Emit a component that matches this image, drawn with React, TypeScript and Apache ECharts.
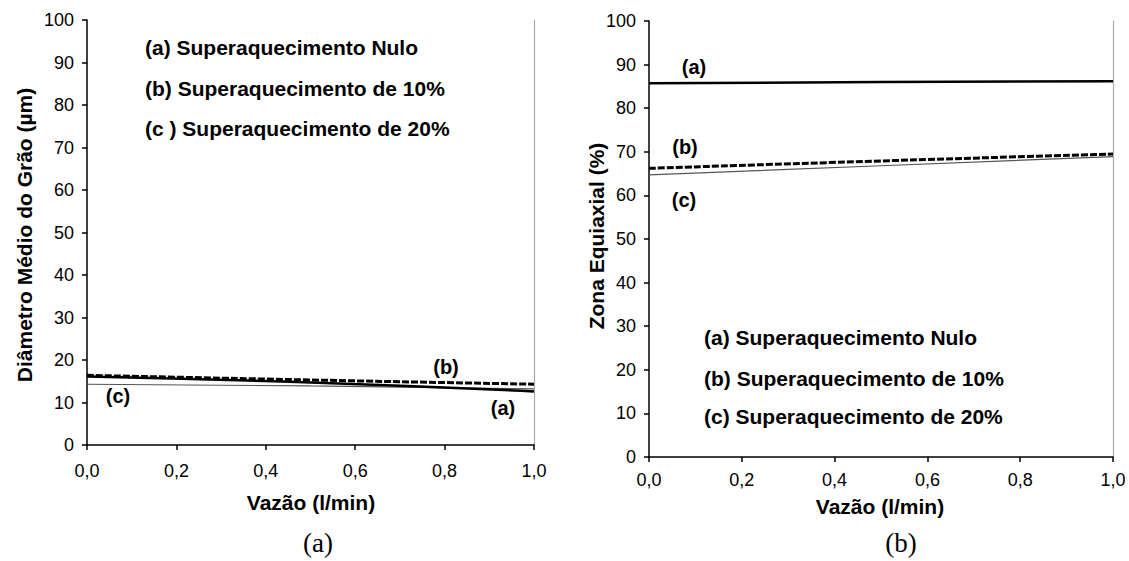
import React, { useEffect, useRef } from "react";
import * as echarts from "echarts";

const xVals = [0, 0.5, 1.0];
const xTicks = ["0,0", "0,2", "0,4", "0,6", "0,8", "1,0"];

// Left chart: Diâmetro Médio do Grão (µm)
const leftA = [16.1, 14.7, 12.6];
const leftB = [16.4, 15.3, 14.3];
const leftC = [14.3, 13.9, 13.2];

// Right chart: Zona Equiaxial (%)
const rightA = [85.7, 86.0, 86.2];
const rightB = [66.2, 67.9, 69.5];
const rightC = [64.7, 66.8, 68.9];

const legendTexts = [
  "(a) Superaquecimento Nulo",
  "(b) Superaquecimento de 10%",
  "(c ) Superaquecimento de 20%",
];
const legendTextsRight = [
  "(a) Superaquecimento Nulo",
  "(b) Superaquecimento de 10%",
  "(c) Superaquecimento de 20%",
];

const FONT = "'Liberation Sans', Arial, sans-serif";
const SERIF = "'Liberation Serif', 'Times New Roman', serif";

const pts = (ys: number[]) => ys.map((y, i) => [xVals[i], y]);

export default function App() {
  const ref = useRef<HTMLDivElement>(null);
  useEffect(() => {
    document.body.style.margin = "0";
    const chart = echarts.init(ref.current!, null, { renderer: "svg" });
    const xAxisBase = (gridIndex: number, margin: number) => ({
      type: "value" as const,
      gridIndex,
      min: 0,
      max: 1,
      interval: 0.2,
      axisLine: { show: true, lineStyle: { color: "#000", width: 1.5 } },
      axisTick: { show: true, inside: false, length: 5, lineStyle: { color: "#000", width: 1.5 } },
      axisLabel: {
        color: "#000",
        fontFamily: FONT,
        fontSize: 18,
        margin,
        formatter: (v: number) => xTicks[Math.round(v / 0.2)] ?? "",
      },
      splitLine: { show: false },
    });
    const yAxisBase = (gridIndex: number) => ({
      type: "value" as const,
      gridIndex,
      min: 0,
      max: 100,
      interval: 10,
      axisLine: { show: true, lineStyle: { color: "#000", width: 1.5 } },
      axisTick: { show: true, inside: false, length: 5, lineStyle: { color: "#000", width: 1.5 } },
      axisLabel: { color: "#000", fontFamily: FONT, fontSize: 18, margin: 13 },
      splitLine: { show: false },
    });
    const yRight = (gridIndex: number) => ({
      type: "value" as const,
      gridIndex,
      position: "right" as const,
      min: 0,
      max: 100,
      axisLine: { show: true, lineStyle: { color: "#aaa", width: 1.2 } },
      axisTick: { show: false },
      axisLabel: { show: false },
      splitLine: { show: false },
    });
    const line = (xi: number, yi: number, data: number[][], kind: string) => ({
      type: "line" as const,
      xAxisIndex: xi,
      yAxisIndex: yi,
      data,
      showSymbol: false,
      symbol: "none",
      smooth: true,
      lineStyle:
        kind === "a"
          ? { color: "#000", width: 2.5, type: "solid" as const }
          : kind === "b"
          ? { color: "#000", width: 3, type: [7, 2] as any }
          : { color: "#555", width: 1.2, type: "solid" as const },
      z: kind === "a" ? 3 : 2,
    });
    const bold = (text: string, x: number, y: number, size = 21, extra: any = {}) => ({
      type: "text",
      x,
      y,
      style: {
        text,
        fill: "#000",
        font: `bold ${size}px ${FONT}`,
        align: "left",
        verticalAlign: "middle",
        ...extra,
      },
    });
    const vtitle = (text: string, x: number, y: number) => ({
      type: "text",
      x,
      y,
      rotation: Math.PI / 2,
      style: {
        text,
        fill: "#000",
        font: `bold 21px ${FONT}`,
        align: "center",
        verticalAlign: "middle",
      },
    });
    const caption = (text: string, x: number, y: number) => ({
      type: "text",
      x,
      y,
      style: {
        text,
        fill: "#000",
        font: `27px ${SERIF}`,
        align: "center",
        verticalAlign: "middle",
      },
    });
    chart.setOption({
      animation: false,
      backgroundColor: "#fff",
      grid: [
        { left: 87, top: 20, width: 447, height: 425 },
        { left: 649, top: 21, width: 464, height: 436 },
      ],
      xAxis: [xAxisBase(0, 17), xAxisBase(1, 14)],
      yAxis: [yAxisBase(0), yRight(0), yAxisBase(1), yRight(1)],
      series: [
        line(0, 0, pts(leftC), "c"),
        line(0, 0, pts(leftB), "b"),
        line(0, 0, pts(leftA), "a"),
        line(1, 2, pts(rightC), "c"),
        line(1, 2, pts(rightB), "b"),
        line(1, 2, pts(rightA), "a"),
      ],
      graphic: [
        bold(legendTexts[0], 145, 47),
        bold(legendTexts[1], 145, 88),
        bold(legendTexts[2], 145, 128),
        bold(legendTextsRight[0], 704, 337),
        bold(legendTextsRight[1], 704, 378),
        bold(legendTextsRight[2], 704, 416),
        bold("(b)", 446, 367, 20, { align: "center" }),
        bold("(c)", 118, 396, 20, { align: "center" }),
        bold("(a)", 503, 408, 20, { align: "center" }),
        bold("(a)", 694, 67, 20, { align: "center" }),
        bold("(b)", 685, 147, 20, { align: "center" }),
        bold("(c)", 684, 200, 20, { align: "center" }),
        bold("Vazão (l/min)", 311, 502, 21, { align: "center" }),
        bold("Vazão (l/min)", 880, 506, 21, { align: "center" }),
        vtitle("Diâmetro Médio do Grão (µm)", 24, 235),
        vtitle("Zona Equiaxial (%)", 596, 236),
        caption("(a)", 318, 543),
        caption("(b)", 901, 543),
      ],
    });
    return () => chart.dispose();
  }, []);
  return <div ref={ref} style={{ width: 1129, height: 561 }} />;
}
